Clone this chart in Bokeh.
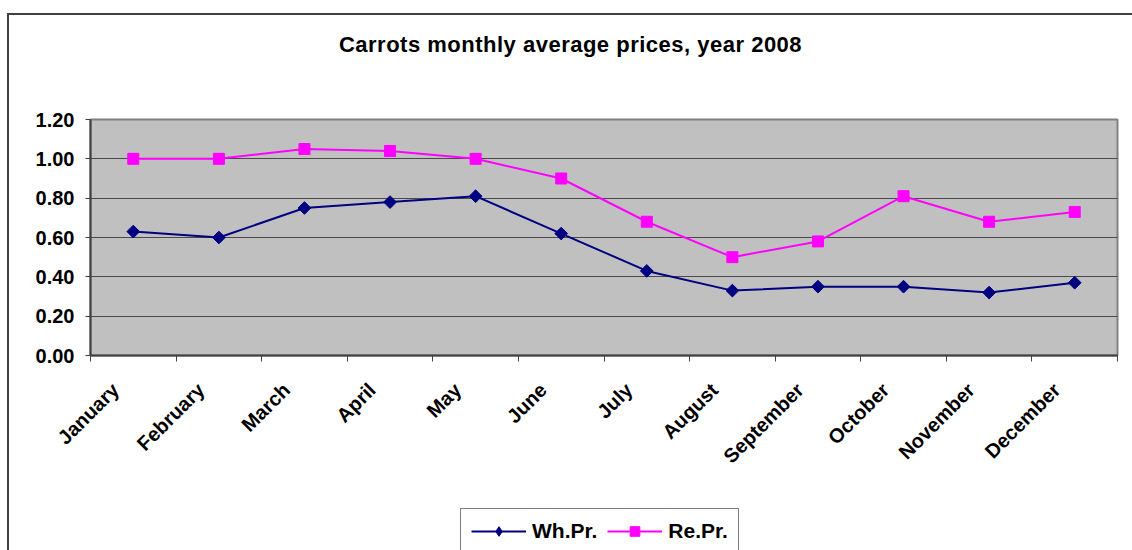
import numpy as np
from bokeh.plotting import figure
from bokeh.layouts import column
from bokeh.models import (Range1d, FixedTicker, ColumnDataSource, Legend, LegendItem,
                          NumeralTickFormatter, Div)
from bokeh.embed import file_html
from bokeh.resources import INLINE

title_text = "Carrots monthly average prices, year 2008"
months = ["January", "February", "March", "April", "May", "June", "July",
          "August", "September", "October", "November", "December"]
wh_pr = [0.63, 0.60, 0.75, 0.78, 0.81, 0.62, 0.43, 0.33, 0.35, 0.35, 0.32, 0.37]
re_pr = [1.00, 1.00, 1.05, 1.04, 1.00, 0.90, 0.68, 0.50, 0.58, 0.81, 0.68, 0.73]
y_ticks = [0.0, 0.2, 0.4, 0.6, 0.8, 1.0, 1.2]
series_names = ["Wh.Pr.", "Re.Pr."]

FONT = "Liberation Sans"
NAVY = "#000080"
MAGENTA = "#FF00FF"

xpos = [i + 0.5 for i in range(len(months))]
src = ColumnDataSource(dict(x=xpos, month=months, wh=wh_pr, re=re_pr))

# title strip
title_div = Div(text=title_text, width=1123, height=60, margin=0,
                styles={"font-family": FONT, "font-weight": "bold", "font-size": "22px",
                        "line-height": "60px", "text-align": "center",
                        "letter-spacing": "0.5px", "color": "black",
                        "white-space": "nowrap"})

p = figure(width=1123, height=430, output_backend="svg", toolbar_location=None,
           x_range=Range1d(0, len(months)), y_range=Range1d(0, 1.2),
           min_border_left=81, min_border_right=15, min_border_top=44,
           min_border_bottom=150)

p.background_fill_color = "#C0C0C0"
p.border_fill_color = "white"
p.outline_line_color = "#808080"
p.outline_line_width = 2

# x axis: labels slightly left of the category centres (as in the rotated Excel labels),
# tick marks at the category boundaries
label_shift = 0.21
xa = p.xaxis[0]
label_pos = [x - label_shift for x in xpos]
xa.ticker = FixedTicker(ticks=label_pos, minor_ticks=list(range(len(months) + 1)))
xa.major_label_overrides = {x: m for x, m in zip(label_pos, months)}
xa.major_tick_line_color = None
xa.minor_tick_in = 0
xa.minor_tick_out = 6
xa.minor_tick_line_color = "#404040"
xa.minor_tick_line_width = 1
xa.axis_line_color = "#404040"
xa.axis_line_width = 2
xa.major_label_orientation = np.pi / 4
xa.major_label_text_font = FONT
xa.major_label_text_font_size = "20px"
xa.major_label_text_font_style = "bold"
xa.major_label_text_color = "black"
xa.major_label_standoff = 25

# y axis
ya = p.yaxis[0]
ya.ticker = FixedTicker(ticks=y_ticks)
ya.formatter = NumeralTickFormatter(format="0.00")
ya.minor_tick_line_color = None
ya.major_tick_in = 0
ya.major_tick_out = 5
ya.major_tick_line_color = "#404040"
ya.axis_line_color = "#404040"
ya.axis_line_width = 2
ya.major_label_text_font = FONT
ya.major_label_text_font_size = "20px"
ya.major_label_text_font_style = "bold"
ya.major_label_text_color = "black"
ya.major_label_standoff = 11

p.xgrid.grid_line_color = None
p.ygrid.ticker = FixedTicker(ticks=y_ticks)
p.ygrid.grid_line_color = "#4a4a4a"
p.ygrid.grid_line_width = 1

p.line("x", "wh", source=src, line_color=NAVY, line_width=2)
p.scatter("x", "wh", source=src, marker="square", angle=np.pi / 4, size=9,
          fill_color=NAVY, line_color=NAVY)
p.line("x", "re", source=src, line_color=MAGENTA, line_width=2)
p.scatter("x", "re", source=src, marker="square", size=11,
          fill_color=MAGENTA, line_color=MAGENTA)

# legend strip below the chart (same series, drawn outside its visible range)
p2 = figure(width=1123, height=45, output_backend="svg", toolbar_location=None,
            x_axis_type=None, y_axis_type=None,
            x_range=Range1d(-20, -19), y_range=Range1d(0, 1.2), min_border=0)
p2.outline_line_color = None
p2.background_fill_color = "white"
p2.border_fill_color = "white"
p2.grid.visible = False
q1 = p2.line("x", "wh", source=src, line_color=NAVY, line_width=2)
r1 = p2.scatter("x", "wh", source=src, marker="diamond", size=19,
                fill_color=NAVY, line_color=NAVY)
q2 = p2.line("x", "re", source=src, line_color=MAGENTA, line_width=2)
r2 = p2.scatter("x", "re", source=src, marker="square", size=11,
                fill_color=MAGENTA, line_color=MAGENTA)

legend = Legend(items=[LegendItem(label=series_names[0], renderers=[q1, r1]),
                       LegendItem(label=series_names[1], renderers=[q2, r2])],
                orientation="horizontal", location=(370, -4))
legend.label_text_font = FONT
legend.label_text_font_size = "21px"
legend.label_text_font_style = "bold"
legend.label_text_color = "black"
legend.glyph_width = 55
legend.glyph_height = 24
legend.label_height = 24
legend.spacing = 10
legend.padding = 10
legend.margin = 0
legend.border_line_color = "black"
legend.border_line_width = 1
legend.background_fill_color = "white"
legend.label_standoff = 6
p2.add_layout(legend, "center")

layout = column(title_div, p, p2, spacing=0)
layout.styles = {"margin-left": "7px", "margin-top": "13px",
                 "border-left": "2px solid #404040", "border-top": "2px solid #404040"}

open("out.html", "w").write(file_html(layout, INLINE))
